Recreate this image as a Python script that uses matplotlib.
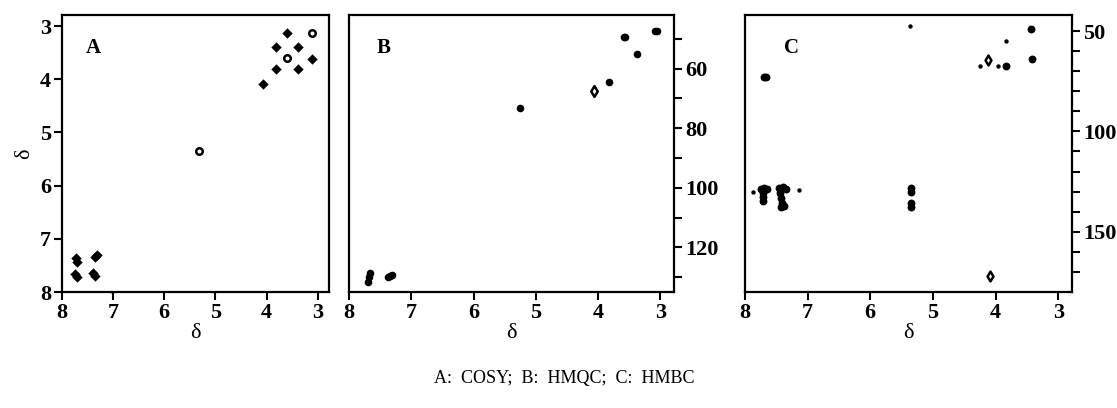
import matplotlib.pyplot as plt

plt.rcParams['font.family'] = ['Liberation Serif', 'Noto Sans CJK SC']

# panel A: COSY (1H vs 1H)
cosy_x = [3.61, 3.81, 3.39, 3.12, 3.81, 3.39, 4.07, 7.73, 7.70, 7.35, 7.32, 7.74, 7.71, 7.40, 7.36]
cosy_y = [3.13, 3.39, 3.39, 3.61, 3.81, 3.81, 4.09, 7.36, 7.43, 7.34, 7.31, 7.67, 7.72, 7.64, 7.70]
cosy_open_x = [3.12, 3.61, 5.33]
cosy_open_y = [3.13, 3.59, 5.34]
cosy_small_x = [7.02]
cosy_small_y = [8.00]

# panel B: HMQC (1H vs 13C)
hmqc_x = [3.09, 3.06, 3.59, 3.56, 3.37, 3.82, 5.25, 7.66, 7.68, 7.70, 7.38, 7.34, 7.31]
hmqc_y = [47.5, 47.5, 49.5, 49.5, 55.0, 64.4, 73.1, 128.5, 130.0, 131.5, 130.0, 129.6, 129.2]
hmqc_open_x = [4.07]
hmqc_open_y = [67.6]

# panel C: HMBC (1H vs 13C)
hmbc_x = [3.43, 3.42, 3.84, 7.70, 7.67,
          7.75, 7.70, 7.65, 7.71, 7.71, 7.71,
          7.45, 7.40, 7.34, 7.44, 7.43, 7.41, 7.38, 7.42,
          5.35, 5.35, 5.35, 5.35]
hmbc_y = [48.8, 64.0, 67.5, 73.1, 73.1,
          128.5, 128.0, 128.5, 130.5, 132.5, 134.5,
          128.0, 127.5, 128.5, 130.5, 133.0, 135.5, 137.0, 137.5,
          128.0, 130.0, 135.5, 137.5]
hmbc_open_x = [4.12, 4.09]
hmbc_open_y = [64.2, 172.0]
hmbc_small_x = [5.37, 3.84, 4.25, 3.96, 7.87, 7.14]
hmbc_small_y = [47.7, 55.0, 67.4, 67.4, 130.2, 129.4]

W, H = 1117, 408
fig = plt.figure(figsize=(W / 100, H / 100), dpi=100)


def px_axes(left, top, right, bottom):
    return fig.add_axes([left / W, 1 - bottom / H, (right - left) / W, (bottom - top) / H])


def style(ax):
    for s in ax.spines.values():
        s.set_linewidth(1.6)
    ax.tick_params(direction='out', length=6, width=1.5, labelsize=16, pad=2)
    for lab in ax.get_xticklabels() + ax.get_yticklabels():
        lab.set_fontweight('bold')
    ax.set_xlim(8, 2.78)
    ax.set_xticks([8, 7, 6, 5, 4, 3])
    ax.set_xlabel('δ', fontsize=16, labelpad=1)


axA = px_axes(62, 15, 329, 292)
axA.scatter(cosy_x, cosy_y, s=28, c='black', marker='D', linewidths=0)
axA.scatter(cosy_open_x, cosy_open_y, s=22, facecolors='white', edgecolors='black', linewidths=1.8)
axA.scatter(cosy_small_x, cosy_small_y, s=4, c='black', linewidths=0, clip_on=False)
axA.set_ylim(8, 2.79)
axA.set_yticks([3, 4, 5, 6, 7, 8])
axA.set_ylabel('δ', fontsize=16, labelpad=4)
axA.text(0.09, 0.88, 'A', transform=axA.transAxes, fontsize=15, fontweight='bold', va='center')
style(axA)

axB = px_axes(349, 15, 674, 292)
axB.scatter(hmqc_x, hmqc_y, s=30, c='black', marker='o', linewidths=0)
axB.scatter(hmqc_open_x, hmqc_open_y, s=30, marker='d', facecolors='white', edgecolors='black', linewidths=1.8)
axB.set_ylim(135, 42)
axB.set_yticks([60, 80, 100, 120])
axB.set_yticks([50, 70, 90, 110, 130], minor=True)
axB.yaxis.tick_right()
axB.tick_params(axis='y', which='minor', length=6, width=1.5, direction='out')
axB.text(0.084, 0.88, 'B', transform=axB.transAxes, fontsize=15, fontweight='bold', va='center')
style(axB)

axC = px_axes(745, 15, 1072, 292)
axC.scatter(hmbc_x, hmbc_y, s=32, c='black', marker='o', linewidths=0)
axC.scatter(hmbc_open_x, hmbc_open_y, s=25, marker='d', facecolors='white', edgecolors='black', linewidths=1.8)
axC.scatter(hmbc_small_x, hmbc_small_y, s=10, c='black', linewidths=0)
axC.set_ylim(180, 42)
axC.set_yticks([50, 100, 150])
axC.set_yticks([60, 70, 80, 90, 110, 120, 130, 140, 160, 170], minor=True)
axC.yaxis.tick_right()
axC.tick_params(axis='y', which='minor', length=6, width=1.5, direction='out')
axC.text(0.12, 0.88, 'C', transform=axC.transAxes, fontsize=15, fontweight='bold', va='center')
style(axC)

fig.text(0.505, 1 - 378 / H, 'A:  COSY;  B:  HMQC;  C:  HMBC', ha='center', va='center', fontsize=13)

fig.savefig('out.png', dpi=100)
